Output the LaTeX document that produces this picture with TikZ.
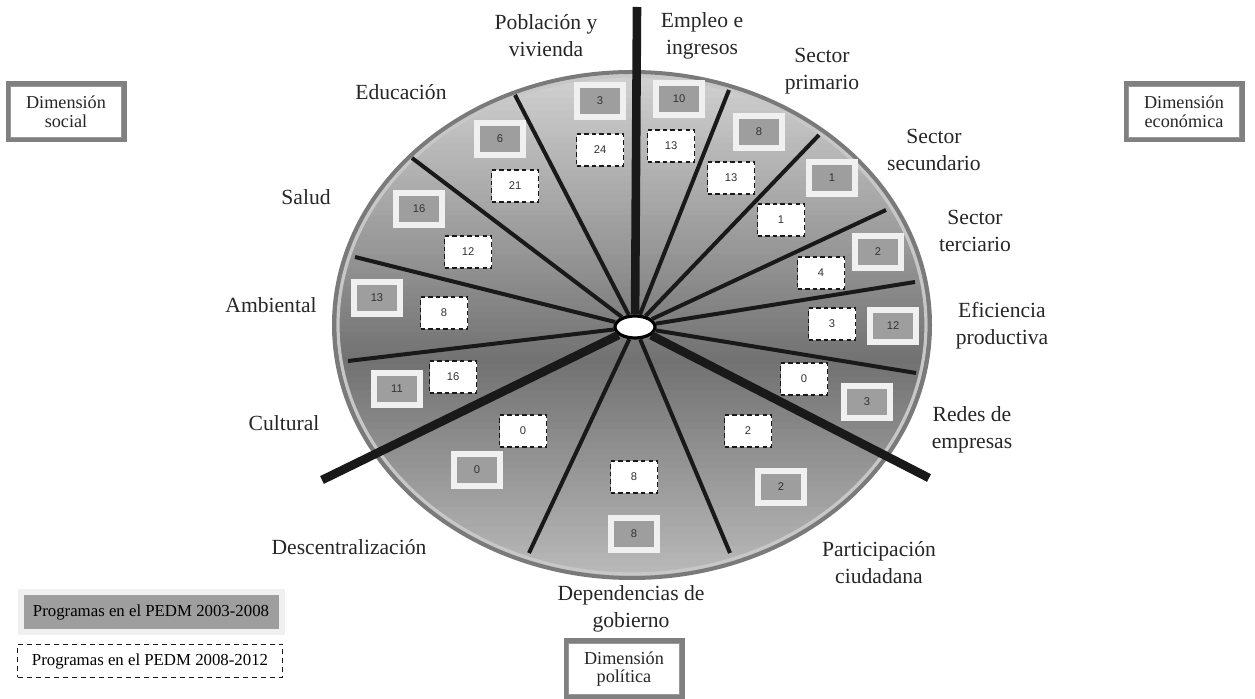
\documentclass[tikz,border=0pt]{standalone}
\usepackage{fontspec}
\setmainfont{Liberation Serif}
\newfontfamily\numfont{Liberation Sans}
\usetikzlibrary{shapes.geometric,shadows}

\tikzset{
  spoke/.style={line width=2pt, black!90},
  dimline/.style={line width=4.3pt, black!90},
  lab/.style={align=center, text=black!85, inner sep=0pt, font=\fontsize{10.8}{13.5}\selectfont},
  hubnode/.style={ellipse, draw=black, line width=1.6pt, fill=white, minimum width=20pt, minimum height=11pt, inner sep=0pt},
  oldbox/.style={fill=black!38, draw=black!6, line width=3pt, minimum width=23pt, minimum height=16pt, inner sep=0pt,
    text=black!80, font=\numfont\fontsize{5.6}{6}\selectfont,
    drop shadow={shadow xshift=1pt, shadow yshift=-1pt, fill=black!70, opacity=0.6}},
  newbox/.style={fill=white, draw=black!90, dash pattern=on 2.2pt off 1.6pt, line width=0.9pt, minimum width=23.5pt, minimum height=16pt,
    inner sep=0pt, text=black!80, font=\numfont\fontsize{5.6}{6}\selectfont},
  dimbox/.style={draw=black!50, line width=2.5pt, fill=white, minimum width=58pt, minimum height=28pt, inner sep=0pt,
    align=center, text=black!85, font=\fontsize{9.1}{9.3}\selectfont},
  dimin/.style={draw=black!40, line width=0.5pt},
  legold/.style={fill=black!38, draw=black!6, line width=3pt, minimum width=130.5pt, minimum height=20pt, inner sep=0pt,
    font=\fontsize{8.4}{9}\selectfont, drop shadow={shadow xshift=1pt, shadow yshift=-1pt, fill=black!70, opacity=0.6}},
  legnew/.style={fill=white, draw=black!90, dash pattern=on 2.5pt off 2pt, line width=0.8pt, minimum width=132.5pt, minimum height=16.5pt,
    inner sep=0pt, font=\fontsize{8.4}{9}\selectfont}
}

\begin{document}
\begin{tikzpicture}[x=0.5pt,y=-0.5pt]
\useasboundingbox (0,0) rectangle (1255,699);
% disc, light at the top and the bottom, dark in the middle
\begin{scope}
  \clip (632,325) ellipse (298 and 253);
  \foreach \k in {0,...,79} {
    \pgfmathsetmacro\shadepc{\k<=44 ? 18+0.85*\k : 55.4-0.85*(\k-44)}
    \fill[black!\shadepc] (330,72+6.5*\k) rectangle (935,80+6.5*\k);
  }
\end{scope}
\draw[black!22, line width=1.6pt] (632,325) ellipse (294 and 249);
\draw[black!52, line width=2pt] (632,325) ellipse (298 and 253);
\node[hubnode] (hub) at (635,327) {};
%
\coordinate (top) at (637,7);
\coordinate (cul-des) at (322,480);
\coordinate (par-red) at (929,478);
\coordinate (pob-edu) at (515,95);
\coordinate (edu-sal) at (412,158);
\coordinate (sal-amb) at (355,257);
\coordinate (amb-cul) at (348,361);
\coordinate (des-dep) at (529,553);
\coordinate (dep-par) at (730,553);
\coordinate (red-efi) at (916,373);
\coordinate (efi-ter) at (915,282);
\coordinate (ter-sec) at (886,210);
\coordinate (sec-pri) at (819,135);
\coordinate (pri-emp) at (729,90);
%
\draw[dimline] (hub) -- (top);
\draw[dimline] (hub) -- (cul-des);
\draw[dimline] (hub) -- (par-red);
\draw[spoke] (hub) -- (pob-edu);
\draw[spoke] (hub) -- (edu-sal);
\draw[spoke] (hub) -- (sal-amb);
\draw[spoke] (hub) -- (amb-cul);
\draw[spoke] (hub) -- (des-dep);
\draw[spoke] (hub) -- (dep-par);
\draw[spoke] (hub) -- (red-efi);
\draw[spoke] (hub) -- (efi-ter);
\draw[spoke] (hub) -- (ter-sec);
\draw[spoke] (hub) -- (sec-pri);
\draw[spoke] (hub) -- (pri-emp);
% programs 2003-2008 and 2008-2012
\node[oldbox] (o-pob) at (600,101) {3};
\node[newbox] (n-pob) at (600,150) {24};
\node[oldbox] (o-emp) at (679,99) {10};
\node[newbox] (n-emp) at (671,146) {13};
\node[oldbox] (o-pri) at (759,132) {8};
\node[newbox] (n-pri) at (731,178) {13};
\node[oldbox] (o-sec) at (832,178) {1};
\node[newbox] (n-sec) at (781,220) {1};
\node[oldbox] (o-ter) at (878,252) {2};
\node[newbox] (n-ter) at (821,273) {4};
\node[oldbox] (o-efi) at (893,326) {12};
\node[newbox] (n-efi) at (832,324) {3};
\node[oldbox] (o-red) at (867,402) {3};
\node[newbox] (n-red) at (804,379) {0};
\node[oldbox] (o-par) at (781,487) {2};
\node[newbox] (n-par) at (748,431) {2};
\node[oldbox] (o-dep) at (634,534) {8};
\node[newbox] (n-dep) at (634,477) {8};
\node[oldbox] (o-des) at (477,470) {0};
\node[newbox] (n-des) at (523,431) {0};
\node[oldbox] (o-cul) at (397,389) {11};
\node[newbox] (n-cul) at (453,377) {16};
\node[oldbox] (o-amb) at (377,298) {13};
\node[newbox] (n-amb) at (444,313) {8};
\node[oldbox] (o-sal) at (419,209) {16};
\node[newbox] (n-sal) at (468,252) {12};
\node[oldbox] (o-edu) at (500,139) {6};
\node[newbox] (n-edu) at (515,186) {21};
% sector labels
\node[lab] (l-pob) at (546,36) {Población y\\vivienda};
\node[lab] (l-emp) at (702,36) {Empleo e\\ingresos};
\node[lab] (l-pri) at (822,71) {Sector\\primario};
\node[lab] (l-sec) at (934,150) {Sector\\secundario};
\node[lab] (l-ter) at (975,231) {Sector\\terciario};
\node[lab] (l-efi) at (1002,326) {Eficiencia\\productiva};
\node[lab] (l-red) at (972,430) {Redes de\\empresas};
\node[lab] (l-par) at (879,563) {Participación\\ciudadana};
\node[lab] (l-dep) at (631,609) {Dependencias de\\gobierno};
\node[lab] (l-des) at (349,547) {Descentralización};
\node[lab] (l-cul) at (284,423) {Cultural};
\node[lab] (l-amb) at (271,305) {Ambiental};
\node[lab] (l-sal) at (306,197) {Salud};
\node[lab] (l-edu) at (401,92) {Educación};
% dimensions
\node[dimbox] (soc) at (66,112) {Dimensión\\social};
\node[dimbox] (eco) at (1184,112) {Dimensión\\económica};
\node[dimbox] (pol) at (624,669) {Dimensión\\política};
\draw[dimin] ([xshift=2.6pt,yshift=-2.6pt]soc.north west) rectangle ([xshift=-2.6pt,yshift=2.6pt]soc.south east);
\draw[dimin] ([xshift=2.6pt,yshift=-2.6pt]eco.north west) rectangle ([xshift=-2.6pt,yshift=2.6pt]eco.south east);
\draw[dimin] ([xshift=2.6pt,yshift=-2.6pt]pol.north west) rectangle ([xshift=-2.6pt,yshift=2.6pt]pol.south east);
% legend
\node[legold] (leg-old) at (151,612) {Programas en el PEDM 2003-2008};
\node[legnew] (leg-new) at (150,661) {Programas en el PEDM 2008-2012};
\end{tikzpicture}
\end{document}
